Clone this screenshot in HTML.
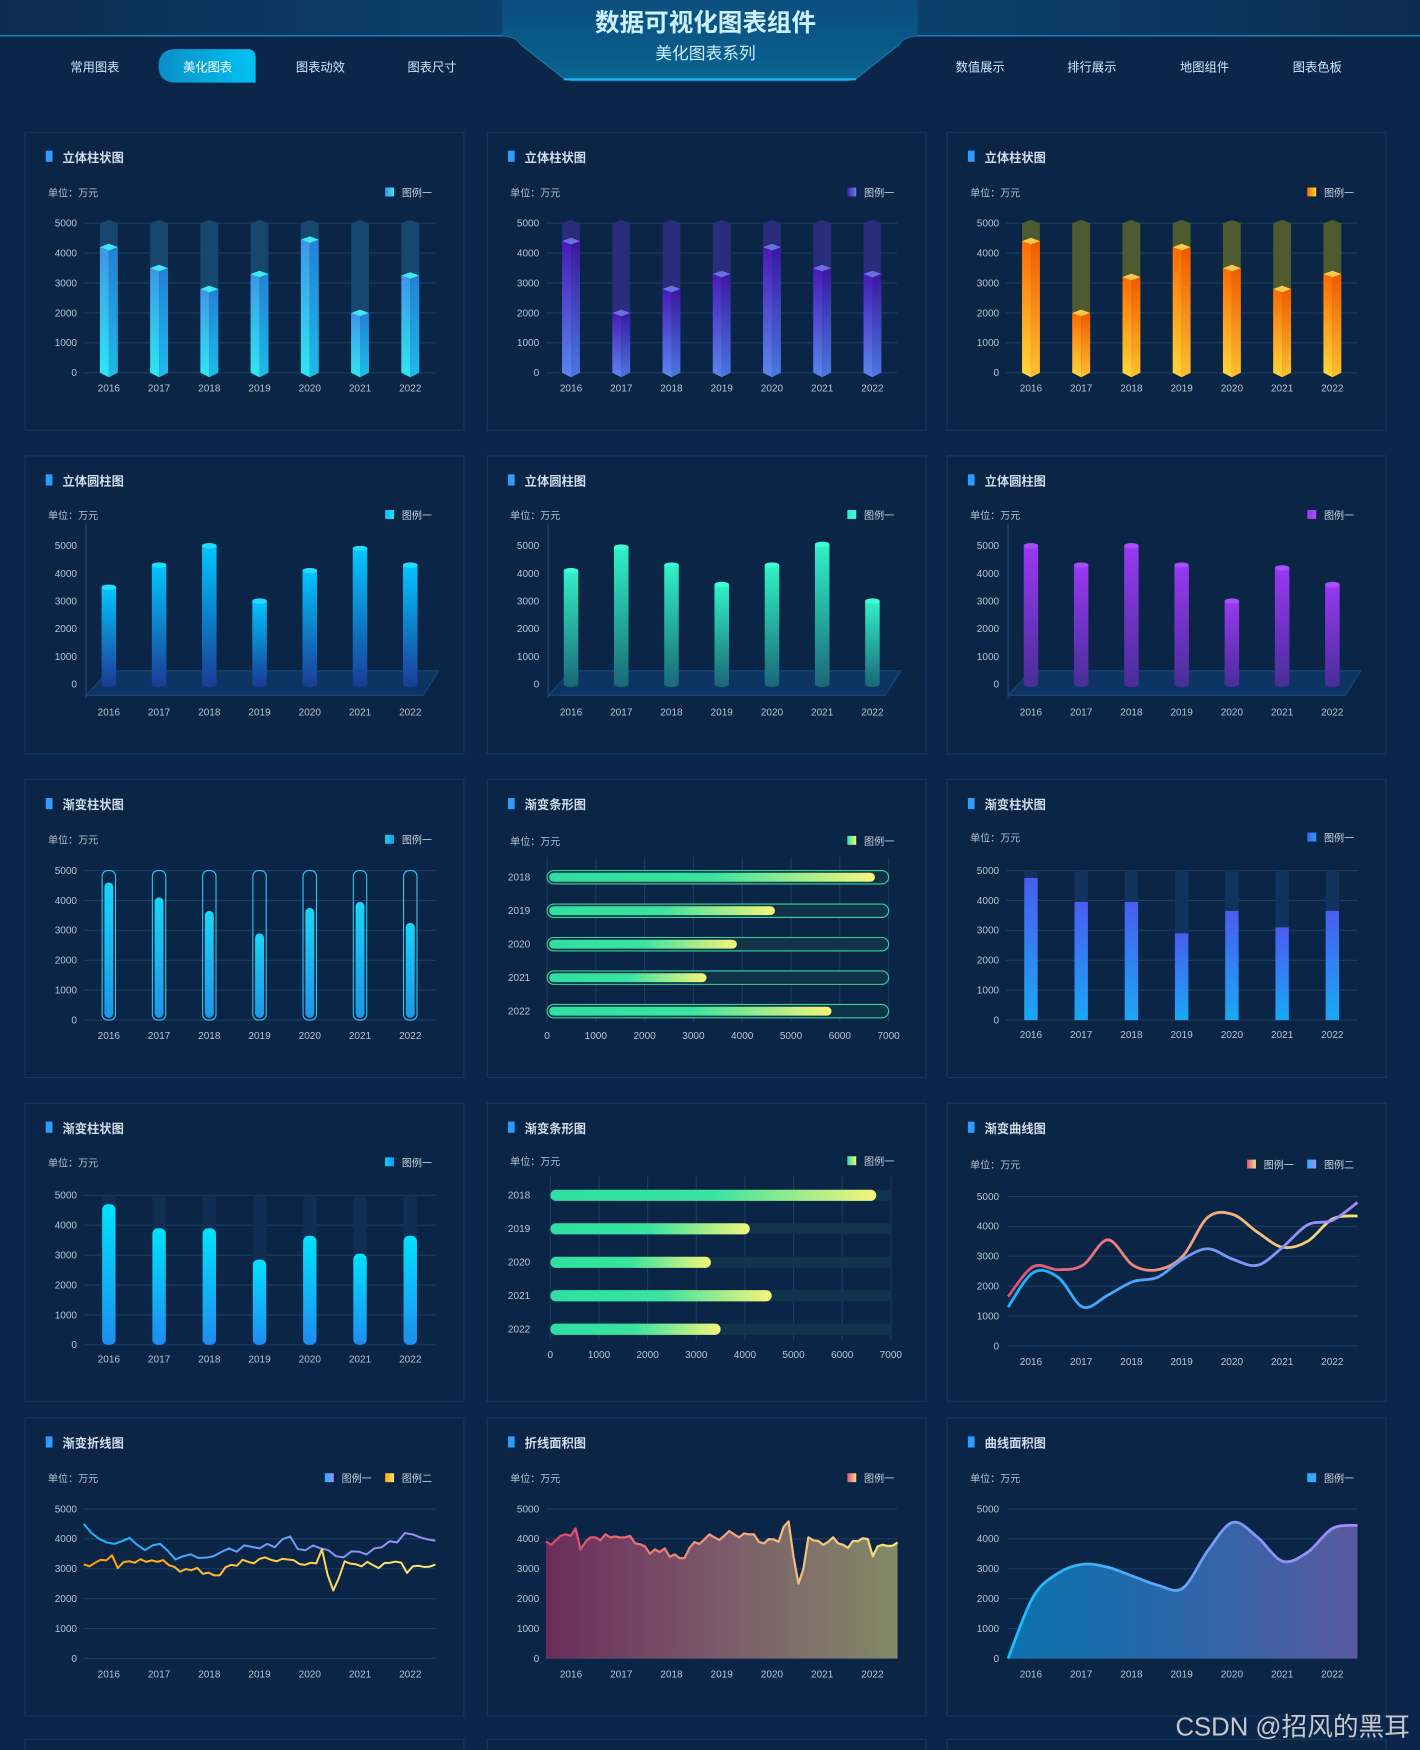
<!DOCTYPE html>
<html><head><meta charset="utf-8">
<style>
*{margin:0;padding:0;box-sizing:border-box}
html,body{width:1420px;height:1750px;overflow:hidden;background:#0b2649;font-family:"Liberation Sans","Noto Sans CJK SC",sans-serif}
#wrap{position:absolute;left:0;top:0;width:1272px;height:1568px;overflow:hidden;transform-origin:0 0;transform:scale(1.11635,1.11607);background:#0b2649}
.panel{position:absolute;width:394px;height:268px;background:#0a2545;border:1px solid #123b64}
.panel.partial{height:10px;border-bottom:none}
.panel svg{position:absolute;left:0;top:0}
.nav{position:absolute;top:52px;font-size:11px;color:#cfe6ff;transform:translateX(-50%);white-space:nowrap}
#wm{position:absolute;left:1053px;top:1528px;font-size:23px;color:rgba(230,230,230,0.85);white-space:nowrap}
</style></head>
<body>
<div id="wrap">
<svg width="1272" height="90" style="position:absolute;left:0;top:0">
<defs>
<linearGradient id="hb" x1="0" y1="0" x2="1" y2="0"><stop offset="0" stop-color="#0c2b50"/><stop offset="0.5" stop-color="#0b4a78"/><stop offset="1" stop-color="#0c2b50"/></linearGradient>
<linearGradient id="tz" x1="0" y1="0" x2="0" y2="1"><stop offset="0" stop-color="#0b4d7c"/><stop offset="1" stop-color="#0a6490"/></linearGradient>
<linearGradient id="act" x1="0" y1="0" x2="1" y2="0"><stop offset="0" stop-color="#0a8fc8"/><stop offset="1" stop-color="#00c2f2"/></linearGradient>
</defs>
<rect x="0" y="0" width="1272" height="32" fill="url(#hb)"/>
<path d="M0 32 L450 32 Q462 32 467 40 L500 66 Q506 72 515 72 L757 72 Q766 72 772 66 L805 40 Q810 32 822 32 L1272 32" fill="none" stroke="#1380b8" stroke-width="1.5"/>
<path d="M450 32 Q462 32 467 40 L500 66 Q506 72 515 72 L757 72 Q766 72 772 66 L805 40 Q810 32 822 32 L822 0 L450 0 Z" fill="url(#tz)"/>
<path d="M505 71 L767 71" stroke="#18b4ee" stroke-width="2"/>
<path d="M158 44 L222 44 Q229 44 229 52 L229 74 L158 74 Q142 74 142 59 Q142 44 158 44 Z" fill="url(#act)"/>
<text x="632" y="28" text-anchor="middle" font-size="22" font-weight="bold" fill="#cdf2ff">数据可视化图表组件</text>
<text x="632" y="53" text-anchor="middle" font-size="15" fill="#cdeeff">美化图表系列</text>
</svg>
<div class="nav" style="left:85px">常用图表</div>
<div class="nav" style="left:186px;color:#fff">美化图表</div>
<div class="nav" style="left:287px">图表动效</div>
<div class="nav" style="left:387px">图表尺寸</div>
<div class="nav" style="left:878px">数值展示</div>
<div class="nav" style="left:978px">排行展示</div>
<div class="nav" style="left:1079px">地图组件</div>
<div class="nav" style="left:1180px">图表色板</div>
<div class="panel partial" style="left:22px;top:1558px"></div>
<div class="panel partial" style="left:436px;top:1558px"></div>
<div class="panel partial" style="left:848px;top:1558px"></div>
<div id="wm">CSDN @招风的黑耳</div>
</div>
<script>
// ---- data ----
const years = ['2016','2017','2018','2019','2020','2021','2022'];
const hYears = ['2018','2019','2020','2021','2022'];
const yTicks = ['0','1000','2000','3000','4000','5000'];
const xTicks7000 = ['0','1000','2000','3000','4000','5000','6000','7000'];
const bar3dA = [4200,3500,2800,3300,4450,2000,3250];
const bar3dB = [4400,2000,2800,3300,4200,3500,3300];
const bar3dC = [4400,2000,3200,4200,3500,2800,3300];
const cylA = [3500,4300,5000,3000,4100,4900,4300];
const cylB = [4100,4950,4300,3600,4300,5050,3000];
const cylC = [5000,4300,5000,4300,3000,4200,3600];
const capsuleVals = [4750,4250,3800,3050,3900,4100,3400];
const hbarA = [6720,4670,3890,3270,5830];
const gbarVals = [4750,3950,3950,2900,3650,3100,3650];
const rbarVals = [4700,3900,3900,2850,3650,3050,3650];
const hbarB = [6700,4100,3300,4550,3500];
const curve1 = [1650,2650,2550,2700,3550,2700,2550,3000,4300,4400,3800,3300,3500,4250,4350];
const curve2 = [1300,2450,2300,1300,1700,2150,2300,2900,3250,2900,2700,3300,4050,4200,4800];
const line1 = [4500,4200,4000,3880,3830,3920,4030,3800,3620,3780,3830,3600,3310,3420,3480,3360,3370,3420,3560,3680,3570,3780,3730,3680,3830,3720,3990,4080,3660,3620,3780,3680,3620,3420,3380,3580,3570,3480,3680,3720,3920,3880,4190,4150,4050,3980,3940];
const line2 = [3150,3080,3200,3300,3280,3450,3020,3220,3250,3200,3320,3230,3280,3230,3290,3120,3060,2900,2990,2950,3030,2830,2870,2780,2780,3050,3130,3100,3300,3230,3180,3330,3380,3300,3250,3330,3310,3290,3160,3130,3200,3180,3650,2800,2270,2700,3250,3170,3150,3080,3230,3120,3020,3190,3200,3240,3200,2860,3080,3100,3060,3070,3140];
const areaVals = [3920,3800,3950,4100,4150,4100,4350,3650,3900,4050,4050,3950,4150,4050,4080,4040,4050,4100,3850,3820,3750,3500,3650,3560,3680,3400,3480,3350,3360,3700,3890,3830,3980,4150,4050,3960,4100,4260,4150,4050,4180,4150,4150,3900,3850,3990,3980,3900,4400,4580,3400,2500,3000,4050,3950,3930,3800,3900,4050,3850,3800,3700,3930,3920,4020,3990,3420,3750,3800,3760,3770,3880];
const smoothArea = [0,2050,2850,3150,3050,2750,2450,2350,3600,4550,4050,3250,3550,4350,4450];

// ---- helpers ----
const NS='http://www.w3.org/2000/svg';
let gid=0;
function mk(tag,attrs,parent){const e=document.createElementNS(NS,tag);for(const k in attrs)e.setAttribute(k,attrs[k]);if(parent)parent.appendChild(e);return e;}
function grad(defs,stops,vertical,user,x1,x2){const id='g'+(gid++);const a=vertical?{id,x1:0,y1:0,x2:0,y2:1}:{id,x1:0,y1:0,x2:1,y2:0};if(user){a.gradientUnits='userSpaceOnUse';a.x1=x1;a.x2=x2;a.y1=0;a.y2=0;}const g=mk('linearGradient',a,defs);stops.forEach((s,i)=>mk('stop',{offset:i/(stops.length-1),'stop-color':s},g));return 'url(#'+id+')';}
function smooth(pts){let d='M'+pts[0][0]+' '+pts[0][1];for(let i=0;i<pts.length-1;i++){const p0=pts[Math.max(0,i-1)],p1=pts[i],p2=pts[i+1],p3=pts[Math.min(pts.length-1,i+2)];const c1x=p1[0]+(p2[0]-p0[0])/6,c1y=p1[1]+(p2[1]-p0[1])/6,c2x=p2[0]-(p3[0]-p1[0])/6,c2y=p2[1]-(p3[1]-p1[1])/6;d+=' C'+c1x+' '+c1y+' '+c2x+' '+c2y+' '+p2[0]+' '+p2[1];}return d;}

function panel(x,y,title,name,opt){
  const div=document.createElement('div');
  div.className='panel';div.style.left=x+'px';div.style.top=y+'px';
  
  
  document.getElementById('wrap').appendChild(div);
  const svg=mk('svg',{width:394,height:268});div.appendChild(svg);
  
  
  const defs=mk('defs',{},svg);
  const mark=mk('rect',{x:18,y:16,width:6,height:10,fill:'#2e9bff'},svg);
  
  
  const t=mk('text',{x:33,y:26,'font-size':11,'font-weight':'bold',fill:'#d2dcea'},svg);t.textContent=title;
  
  
  const uy=opt.unitY||57;
  const u=mk('text',{x:20,y:uy,'font-size':9,fill:'#b4c0d0'},svg);u.textContent='单位：万元';
  
  
  (opt.legend||[]).forEach((L,i)=>{
    const lx=(opt.legend.length>1?268:322)+i*54;
    const r=mk('rect',{x:lx,y:uy-8,width:8,height:8,fill:grad(defs,L.c,false)},svg);
    
    
    const tx=mk('text',{x:lx+15,y:uy,'font-size':9,fill:'#c8d2e0'},svg);tx.textContent=L.t;
    
    
  });
  return {svg,defs};
}
function yAxis(svg,x0,x1,yt,yb,grid,labX){
  const yv=v=>yb-(v/5000)*(yb-yt);
  yTicks.forEach(s=>{const v=+s;
    if(grid){const l=mk('line',{x1:x0,x2:x1,y1:yv(v),y2:yv(v),stroke:'#1c3d60','stroke-width':1},svg);
    
    }
    const t=mk('text',{x:labX||46,y:yv(v)+3,'font-size':9,fill:'#b8c4d4','text-anchor':'end'},svg);t.textContent=s;
    
    
  });
  return yv;
}
function xAxis(svg,x0,bw,ly){
  years.forEach((s,i)=>{const t=mk('text',{x:x0+bw*(i+0.5),y:ly,'font-size':9,fill:'#b8c4d4','text-anchor':'middle'},svg);t.textContent=s;
  
  });
}
const X0=52,BW=45,X1=367;

function bar3d(x,y,vals,c){
  const {svg,defs}=panel(x,y,'立体柱状图','panel-3d-bar',{legend:[{t:'图例一',c:[c.l[0],c.l[1]]}]});
  const yv=yAxis(svg,X0,X1,81,215,true);xAxis(svg,X0,BW,232);
  const gl=grad(defs,c.l,true),gr=grad(defs,c.r,true);
  vals.forEach((v,i)=>{const cx=X0+BW*(i+0.5),w=8,top=yv(v),t5=yv(5000),b=215;
    const bg=mk('path',{d:`M${cx-w} ${t5} L${cx} ${t5-3} L${cx+w} ${t5} L${cx+w} ${b} L${cx} ${b+4} L${cx-w} ${b} Z`,fill:c.bg},svg);
    
    
    const lf=mk('path',{d:`M${cx-w} ${top} L${cx} ${top+3} L${cx} ${b+4} L${cx-w} ${b} Z`,fill:gl},svg);
    
    
    const rf=mk('path',{d:`M${cx} ${top+3} L${cx+w} ${top} L${cx+w} ${b} L${cx} ${b+4} Z`,fill:gr},svg);
    
    
    const tp=mk('path',{d:`M${cx-w} ${top} L${cx} ${top-3} L${cx+w} ${top} L${cx} ${top+3} Z`,fill:c.t},svg);
    
    
  });
}
function cyl(x,y,vals,c){
  const {svg,defs}=panel(x,y,'立体圆柱图','panel-cylinder',{legend:[{t:'图例一',c:[c.top,c.cap]}],unitY:56});
  const yb=204,yv=yAxis(svg,X0,X1,80,yb,false);xAxis(svg,X0,BW,232);
  const ax=mk('line',{x1:54,x2:54,y1:60,y2:216,stroke:'#2a4a70'},svg);
  
  
  const fl=mk('path',{d:'M54 214 L75 192 L370 192 L356 214 Z',fill:'#0d3766',stroke:'#14487c','fill-opacity':0.9},svg);
  
  
  const g=grad(defs,[c.top,c.bot],true);
  vals.forEach((v,i)=>{const cx=X0+BW*(i+0.5),w=6.5,top=yv(v);
    const be=mk('ellipse',{cx,cy:yb,rx:w,ry:2.5,fill:c.bot},svg);
    
    
    const body=mk('rect',{x:cx-w,y:top,width:2*w,height:yb-top,fill:g},svg);
    
    
    const cp=mk('ellipse',{cx,cy:top,rx:w,ry:2.5,fill:c.cap},svg);
    
    
  });
}
function capsule(x,y,vals){
  const {svg,defs}=panel(x,y,'渐变柱状图','panel-capsule-bar',{legend:[{t:'图例一',c:['#1ad0f5','#1c9ae6']}]});
  const yv=yAxis(svg,X0,X1,81,215,true);xAxis(svg,X0,BW,232);
  const g=grad(defs,['#19d6f7','#1d96e8'],true);
  vals.forEach((v,i)=>{const cx=X0+BW*(i+0.5);
    const o=mk('rect',{x:cx-6,y:yv(5000),width:12,height:yv(0)-yv(5000),rx:5,fill:'none',stroke:'#29c6ef','stroke-width':1},svg);
    
    
    const b=mk('rect',{x:cx-4,y:yv(v)+4,width:8,height:yv(0)-yv(v)-6,rx:4,fill:g},svg);
    
    
  });
}
function hbar(x,y,vals,outlined,rows0,unitY,labY){
  const {svg,defs}=panel(x,y,'渐变条形图','panel-horizontal-bar',{legend:[{t:'图例一',c:['#2fe0a0','#f5f57a']}],unitY});
  const hx0=outlined?53:56,hx1=outlined?359:361,xv=v=>hx0+(v/7000)*(hx1-hx0);
  xTicks7000.forEach(s=>{const v=+s;
    const l=mk('line',{x1:xv(v),x2:xv(v),y1:rows0-18,y2:rows0+130,stroke:'#1c3d60'},svg);
    
    
    const t=mk('text',{x:xv(v),y:labY,'font-size':9,fill:'#b8c4d4','text-anchor':'middle'},svg);t.textContent=s;
    
    
  });
  const g=grad(defs,['#2fe0a0','#3ae3a0','#f5f57a'],false);
  vals.forEach((v,i)=>{const cy=rows0+30*i;
    const lb=mk('text',{x:28,y:cy+3,'font-size':9,fill:'#b8c4d4','text-anchor':'middle'},svg);lb.textContent=hYears[i];
    
    
    let tr;
    if(outlined){tr=mk('rect',{x:hx0,y:cy-6,width:hx1-hx0,height:12,rx:6,fill:'#10334a',stroke:'#2fd79c','stroke-width':1},svg);}
    else{tr=mk('rect',{x:hx0,y:cy-5,width:hx1-hx0,height:10,fill:'#11344e'},svg);}
    
    
    const h=outlined?8:10;
    const b=mk('rect',{x:hx0+(outlined?2:0),y:cy-h/2,width:xv(v)-hx0-(outlined?2:0),height:h,rx:h/2,fill:g},svg);
    
    
  });
}
function gbar(x,y,vals,rounded){
  const {svg,defs}=panel(x,y,'渐变柱状图',rounded?'panel-rounded-bar':'panel-gradient-bar',{legend:[{t:'图例一',c:rounded?['#00d8ff','#1e8ff0']:['#4a5cf0','#1aa8f5']}],unitY:rounded?56:55});
  const yt=rounded?82:81,yb=rounded?216:215;
  const yv=yAxis(svg,X0,X1,yt,yb,true);xAxis(svg,X0,BW,yb+16);
  const g=grad(defs,rounded?['#00e2ff','#1e8df0']:['#4a5cf0','#1aa8f5'],true);
  vals.forEach((v,i)=>{const cx=X0+BW*(i+0.5);
    const bg=mk('rect',{x:cx-6,y:yv(5000),width:12,height:yv(0)-yv(5000),fill:rounded?'#0f2e52':'#10345d'},svg);
    
    
    const b=mk('rect',{x:cx-6,y:yv(v),width:12,height:yv(0)-yv(v),rx:rounded?5:0,fill:g},svg);
    
    
  });
}
function curves(x,y){
  const {svg,defs}=panel(x,y,'渐变曲线图','panel-gradient-curve',{legend:[{t:'图例一',c:['#e0507a','#f7e08a']},{t:'图例二',c:['#18b8ff','#a58af5']}],unitY:58});
  const yv=yAxis(svg,54,368,83,217,true);xAxis(svg,X0,BW,234);
  const xs=i=>54+i*(367-54)/14;
  [[curve1,['#e04a7a','#f0a080','#f7e27a']],[curve2,['#15b8ff','#6a9cf5','#a78af5']]].forEach(([d,c],k)=>{
    const p=mk('path',{d:smooth(d.map((v,i)=>[xs(i),yv(v)])),fill:'none',stroke:grad(defs,c,false,true,54,367),'stroke-width':2.5},svg);
    
    
  });
}
function lines(x,y){
  const {svg,defs}=panel(x,y,'渐变折线图','panel-gradient-line',{legend:[{t:'图例一',c:['#18b8ff','#a58af5']},{t:'图例二',c:['#ffa500','#ffe27a']}],unitY:57});
  const yv=yAxis(svg,X0,X1,81,215,true);xAxis(svg,X0,BW,232);
  [[line1,['#15b8ff','#6a9cf5','#a78af5']],[line2,['#ffa000','#ffc840','#ffe680']]].forEach(([d,c],k)=>{
    const xs=i=>X0+i*(X1-X0)/(d.length-1);
    const p=mk('polyline',{points:d.map((v,i)=>xs(i)+','+yv(v)).join(' '),fill:'none',stroke:grad(defs,c,false,true,X0,X1),'stroke-width':1.8,'stroke-linejoin':'round'},svg);
    
    
  });
}
function area(x,y){
  const {svg,defs}=panel(x,y,'折线面积图','panel-line-area',{legend:[{t:'图例一',c:['#e0507a','#f7e08a']}],unitY:57});
  const yv=yAxis(svg,X0,X1,81,215,true);xAxis(svg,X0,BW,232);
  const xs=i=>X0+i*(X1-X0)/(areaVals.length-1);
  const pts=areaVals.map((v,i)=>xs(i)+','+yv(v)).join(' ');
  const f=mk('polygon',{points:X0+','+yv(0)+' '+pts+' '+X1+','+yv(0),fill:grad(defs,['#6a2d5a','#7b5a6a','#838a66'],false)},svg);
  
  
  const p=mk('polyline',{points:pts,fill:'none',stroke:grad(defs,['#e0406a','#f0a080','#f7e27a'],false,true,X0,X1),'stroke-width':2,'stroke-linejoin':'round'},svg);
  
  
}
function sarea(x,y){
  const {svg,defs}=panel(x,y,'曲线面积图','panel-curve-area',{legend:[{t:'图例一',c:['#18b8ff','#4aa0f5']}],unitY:57});
  const yv=yAxis(svg,54,367,81,215,true);xAxis(svg,X0,BW,232);
  const xs=i=>54+i*(367-54)/14;
  const d=smooth(smoothArea.map((v,i)=>[xs(i),yv(v)]));
  const f=mk('path',{d:d+` L367 ${yv(0)} L54 ${yv(0)} Z`,fill:grad(defs,['#0a72ad','#2b66a8','#5a5aa0'],false)},svg);
  
  
  const p=mk('path',{d,fill:'none',stroke:grad(defs,['#15c0ff','#6aa0f5','#a88af5'],false,true,54,367),'stroke-width':2.5},svg);
  
  
}
const C=[22,436,848];
bar3d(C[0],118,bar3dA,{l:['#3f95e6','#2ee8f2'],r:['#2280d6','#1fbbe9'],t:'#3ee8f5',bg:'#17476e'});
bar3d(C[1],118,bar3dB,{l:['#4a1ab8','#5a86ee'],r:['#3a18a0','#4a78e0'],t:'#6a70e2',bg:'#2a2c7c'});
bar3d(C[2],118,bar3dC,{l:['#ff6a00','#ffd83a'],r:['#f05a00','#ffc030'],t:'#ffc84a',bg:'#4e5a30'});
cyl(C[0],408,cylA,{top:'#00c6ff',bot:'#1a3e98',cap:'#22dcff'});
cyl(C[1],408,cylB,{top:'#30f2c6',bot:'#1b6a7a',cap:'#40fad4'});
cyl(C[2],408,cylC,{top:'#9a38f2',bot:'#4a2e9a',cap:'#a650f5'});
capsule(C[0],698,capsuleVals);
hbar(C[1],698,hbarA,true,87,58,232);
gbar(C[2],698,gbarVals,false);
gbar(C[0],988,rbarVals,true);
hbar(C[1],988,hbarB,false,82,55,228);
curves(C[2],988);
lines(C[0],1270);
area(C[1],1270);
sarea(C[2],1270);
document.getElementById('wrap').appendChild(document.getElementById('wm'));
</script>
</body></html>
